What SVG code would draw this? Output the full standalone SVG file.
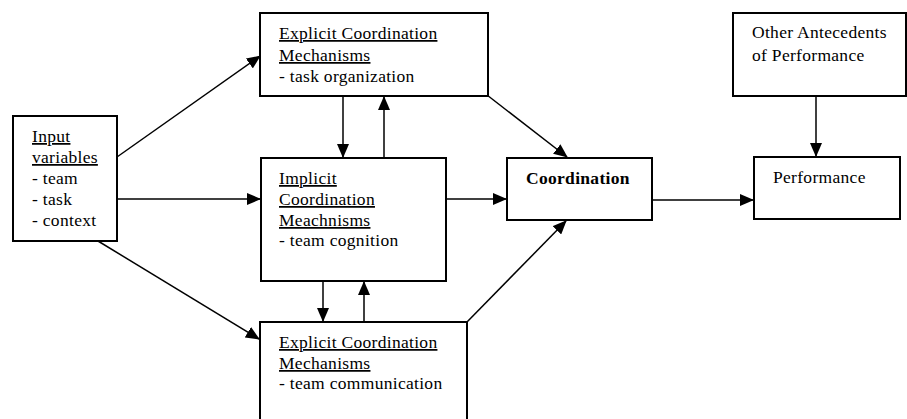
<svg xmlns="http://www.w3.org/2000/svg" width="907" height="419" viewBox="0 0 907 419">
<style>
.box{fill:#fff;stroke:#000;stroke-width:2}
text{font-family:"Liberation Serif","Times New Roman",serif;font-size:17.5px;letter-spacing:0.3px;fill:#000}
.u{text-decoration:underline}
.b{font-weight:bold}
.c{stroke:#000;stroke-width:1.5;fill:none;marker-end:url(#ah)}
</style>
<defs>
<marker id="ah" markerUnits="userSpaceOnUse" markerWidth="14" markerHeight="12" viewBox="0 0 14 12" refX="13" refY="6" orient="auto">
<path d="M0,0 L14,6 L0,12 z" fill="#000"/>
</marker>
</defs>
<g id="connectors">
<line class="c" x1="117" y1="157" x2="260" y2="56"/>
<line class="c" x1="117" y1="199" x2="260" y2="199"/>
<line class="c" x1="98" y1="241" x2="259" y2="339"/>
<line class="c" x1="343" y1="97" x2="343" y2="157"/>
<line class="c" x1="384" y1="157" x2="384" y2="97"/>
<line class="c" x1="323" y1="282" x2="323" y2="321"/>
<line class="c" x1="364" y1="321" x2="364" y2="282"/>
<line class="c" x1="487" y1="95" x2="567" y2="157"/>
<line class="c" x1="446" y1="199" x2="506" y2="199"/>
<line class="c" x1="467" y1="322" x2="566" y2="221"/>
<line class="c" x1="652" y1="200" x2="753" y2="200"/>
<line class="c" x1="816" y1="97" x2="816" y2="156"/>
</g>
<g font-family="Liberation Serif, Times New Roman, serif" xml:space="preserve">
<g id="input">
<rect class="box" x="13" y="116" width="104" height="125"/>
<text x="32" y="142"><tspan class="u">Input </tspan></text>
<text x="32" y="163"><tspan class="u">variables</tspan></text>
<text x="32" y="184">- team</text>
<text x="32" y="205">- task</text>
<text x="32" y="226">- context</text>
</g>
<g id="explicit-task">
<rect class="box" x="260" y="13" width="228" height="83"/>
<text x="279" y="39"><tspan class="u">Explicit Coordination </tspan></text>
<text x="279" y="61"><tspan class="u">Mechanisms</tspan></text>
<text x="279" y="82">- task organization</text>
</g>
<g id="implicit">
<rect class="box" x="261" y="158" width="185" height="123"/>
<text x="279" y="184"><tspan class="u">Implicit </tspan></text>
<text x="279" y="205"><tspan class="u">Coordination </tspan></text>
<text x="279" y="226"><tspan class="u">Meachnisms</tspan></text>
<text x="279" y="246">- team cognition</text>
</g>
<g id="explicit-comm">
<rect class="box" x="260" y="322" width="207" height="105"/>
<text x="279" y="348"><tspan class="u">Explicit Coordination </tspan></text>
<text x="279" y="369"><tspan class="u">Mechanisms</tspan></text>
<text x="279" y="389">- team communication</text>
</g>
<g id="coordination">
<rect class="box" x="507" y="158" width="145" height="62"/>
<text class="b" x="526" y="184">Coordination</text>
</g>
<g id="other">
<rect class="box" x="733" y="13" width="173" height="83"/>
<text x="752" y="38">Other Antecedents</text>
<text x="752" y="61">of Performance</text>
</g>
<g id="performance">
<rect class="box" x="754" y="157" width="146" height="62"/>
<text x="773" y="183">Performance</text>
</g>
</g>
</svg>
